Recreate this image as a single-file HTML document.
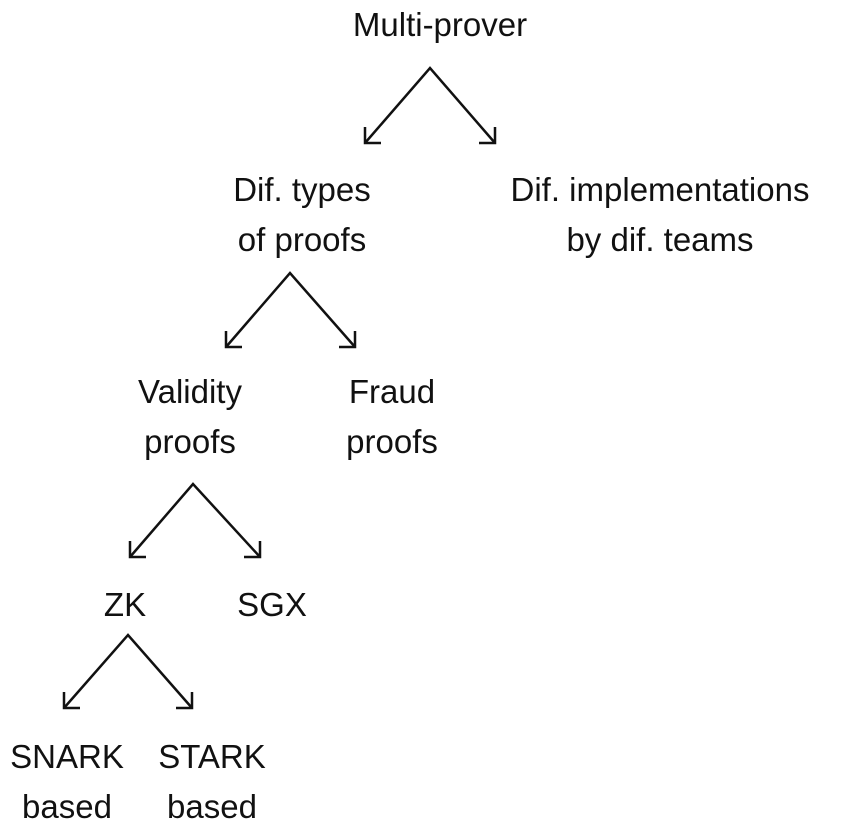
<!DOCTYPE html>
<html><head><style>
body{margin:0;background:#fff;width:856px;height:826px;position:relative;overflow:hidden;font-family:"Liberation Sans",sans-serif;color:#111;}
.t{position:absolute;width:400px;margin-left:-200px;text-align:center;font-size:33px;line-height:50px;white-space:nowrap;}
svg{position:absolute;left:0;top:0}
</style></head><body>
<svg width="856" height="826" fill="none" stroke="#111" stroke-width="2.5">
<g>
<path d="M365 143 L430 68 L495 143"/><path d="M365 127 V143 H381 M495 127 V143 H479"/>
<path d="M226 347 L290 273 L355 347"/><path d="M226 331 V347 H242 M355 331 V347 H339"/>
<path d="M130 557 L193 484 L260 557"/><path d="M130 541 V557 H146 M260 541 V557 H244"/>
<path d="M64 708 L128 635 L192 708"/><path d="M64 692 V708 H80 M192 692 V708 H176"/>
</g></svg>
<div class="t" style="left:440px;top:0px">Multi-prover</div>
<div class="t" style="left:302px;top:165px">Dif. types<br>of proofs</div>
<div class="t" style="left:660px;top:165px">Dif. implementations<br>by dif. teams</div>
<div class="t" style="left:190px;top:367px">Validity<br>proofs</div>
<div class="t" style="left:392px;top:367px">Fraud<br>proofs</div>
<div class="t" style="left:125px;top:580px">ZK</div>
<div class="t" style="left:272px;top:580px">SGX</div>
<div class="t" style="left:67px;top:732px">SNARK<br>based</div>
<div class="t" style="left:212px;top:732px">STARK<br>based</div>
</body></html>
